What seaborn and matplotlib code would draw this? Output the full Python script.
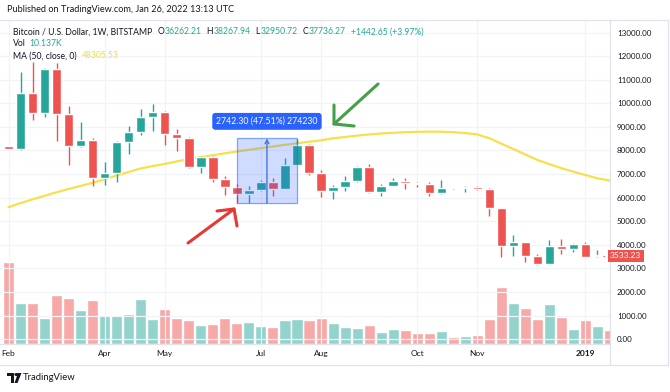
import numpy as np
import pandas as pd
import matplotlib
matplotlib.use("Agg")
import matplotlib.pyplot as plt
import matplotlib.transforms as mtransforms
from matplotlib.lines import Line2D
from matplotlib.patches import Rectangle, Circle, Polygon
import seaborn as sns

# Bitcoin / USD semanal (Bitstamp), fev/2018 -> jan/2019
opens = [8190, 8064, 10424, 9602, 11453, 9534, 8203, 8445, 6822, 7034,
         8347, 8797, 9407, 9644, 8686, 8517, 7314, 7737, 6800, 6441,
         6157, 6326, 6678, 6356, 7386, 8233, 7034, 6296, 6466, 6708,
         7314, 6254, 6496, 6708, 6610, 6568, 6186, 6424, 6398, 6441,
         6356, 5551, 3953, 4136, 3542, 3191, 3953, 3826, 4038, 3520,
         3545]
highs = [8190, 11314, 11763, 11500, 11695, 9898, 9195, 8517, 7500, 8403,
         9038, 9758, 9970, 9680, 8898, 8560, 7767, 7770, 6919, 6600,
         6496, 6750, 6822, 7669, 8480, 8275, 7174, 6538, 6919, 7343,
         7428, 6560, 6822, 6822, 6650, 6678, 6750, 6470, 6496, 6480,
         6400, 5560, 4419, 4140, 3602, 4208, 4250, 4090, 4110, 3784,
         3700]
lows = [8060, 8030, 9292, 9407, 8403, 7386, 8150, 6509, 6538, 6653,
        7839, 8657, 8840, 8233, 7979, 7246, 7034, 6653, 6130, 5772,
        5788, 6300, 6072, 6356, 7386, 6962, 6017, 5932, 6296, 6680,
        6212, 6072, 6480, 6356, 6466, 6072, 6150, 6380, 6254, 6330,
        5237, 3500, 3542, 3263, 3161, 3180, 3614, 3712, 3470, 3480,
        3480]
closes = [8060, 10424, 9602, 11453, 9534, 8203, 8445, 6822, 7034, 8347,
          8797, 9407, 9644, 8686, 8517, 7314, 7737, 6800, 6441, 6157,
          6326, 6678, 6356, 7386, 8233, 7034, 6296, 6466, 6708, 7314,
          6254, 6496, 6708, 6610, 6568, 6186, 6424, 6398, 6441, 6356,
          5551, 3953, 4136, 3542, 3191, 3953, 3826, 4038, 3500, 3545,
          3533.23]
# volume (mil BTC, escala aproximada lida das barras)
volumes = [245, 123, 123, 79, 148, 138, 103, 133, 88, 88,
           91, 136, 75, 106, 77, 71, 57, 61, 77, 64,
           67, 53, 50, 73, 75, 73, 79, 64, 51, 49,
           57, 37, 46, 42, 32, 34, 40, 21, 25, 28,
           75, 172, 123, 108, 75, 121, 82, 46, 71, 55,
           41]
# média móvel de 50 semanas
ma50 = [5600, 5770, 5930, 6080, 6230, 6370, 6500, 6630, 6780, 6940,
        7090, 7240, 7340, 7430, 7540, 7630, 7720, 7800, 7880, 7960,
        8030, 8100, 8170, 8240, 8305, 8370, 8430, 8520, 8570, 8630,
        8680, 8720, 8750, 8775, 8790, 8800, 8795, 8775, 8740, 8680,
        8520, 8290, 8060, 7830, 7600, 7420, 7250, 7100, 6960, 6820,
        6730]

month_pos = [0, 8, 13, 21, 26, 34, 39, 48]
month_labels = ["Feb", "Apr", "May", "Jul", "Aug", "Oct", "Nov", "2019"]
price_ticks = list(range(0, 13001, 1000))

# ferramenta de medição (semana 19 -> 24)
measure_weeks = [19, 24]
measure_low = 5772.00
measure_high = 8514.30
measure_text = "2742.30 (47.51%) 274230"

df = pd.DataFrame({"week": np.arange(len(opens)), "open": opens, "high": highs,
                   "low": lows, "close": closes, "volume": volumes, "ma": ma50})
df["dir"] = np.where(df["close"] >= df["open"], "up", "down")

UP, DOWN = "#26A69A", "#EF5350"
GRID = "#F0F3FA"
BORDER = "#E0E3EB"
TXT = "#131722"

sns.set_theme(style="white")
plt.rcParams["font.family"] = ["Lato", "DejaVu Sans"]

W, H = 670, 392
fig = plt.figure(figsize=(W / 100, H / 100), dpi=100)
fig.patch.set_facecolor("white")

def fx(x):
    return x / W

def fy(y):
    return 1 - y / H

ax = fig.add_axes([0, fy(344), fx(610), (344 - 20) / H])
ax.set_xlim(-0.71, 50.04)
ax.set_ylim(-200, 13530)

# grade
for p in price_ticks:
    ax.axhline(p, color=GRID, lw=0.9, zorder=0)
for m in month_pos:
    ax.axvline(m, color=GRID, lw=0.9, zorder=0)

# volume em eixo próprio
axv = ax.twinx()
sns.barplot(data=df, x="week", y="volume", hue="dir",
            palette={"up": "#93D3CC", "down": "#F7A9A7"},
            native_scale=True, width=0.92, dodge=False, errorbar=None,
            saturation=1, legend=False, ax=axv)
axv.set_ylim(0, 972)
axv.set_xlim(-0.71, 50.04)
axv.set_yticks([])
axv.set_ylabel("")
axv.set_xlabel("")
for s in axv.spines.values():
    s.set_visible(False)

# média móvel
sns.lineplot(data=df, x="week", y="ma", color="#F6E04B", lw=1.6, ax=ax, zorder=3)

# candles
px_val = (13530 + 200) / 324.0
cols = np.where(df["dir"] == "up", UP, DOWN)
ax.vlines(df["week"], df["low"], df["high"], colors=cols, lw=1.0, zorder=4)
body_lo = np.minimum(df["open"], df["close"])
body_h = np.maximum((df["close"] - df["open"]).abs(), px_val * 1.2)
ax.bar(df["week"], body_h, bottom=body_lo, width=0.78, color=cols, zorder=5)

# linha do último preço
last = df.iloc[-1]
ax.plot([df["week"].iloc[-2] + 0.45, df["week"].iloc[-1]], [last["close"]] * 2,
        color=DOWN, lw=0.8, ls=(0, (2, 1.5)), zorder=4)

# ferramenta de medição
ax.add_patch(Rectangle((measure_weeks[0], measure_low), measure_weeks[1] - measure_weeks[0],
                       measure_high - measure_low, facecolor=(0.16, 0.38, 1.0, 0.22),
                       edgecolor=(0.16, 0.38, 1.0, 0.55), lw=0.9, zorder=6))
mid = (measure_weeks[0] + measure_weeks[1]) / 2
ax.annotate("", xy=(mid, measure_high), xytext=(mid, measure_low),
            arrowprops=dict(arrowstyle="->", color="#4A72E0", lw=1.0,
                            shrinkA=0, shrinkB=0, mutation_scale=7), zorder=7)
ax.text(mid, measure_high + 17 * px_val, measure_text, ha="center", va="center",
        color="white", fontsize=6.3, zorder=8,
        bbox=dict(boxstyle="round,pad=0.45,rounding_size=0.35", fc="#2962FF", ec="none"))

# eixos
ax.set_xticks(month_pos)
ax.set_xticklabels(month_labels)
ax.get_xticklabels()[-1].set_fontweight("bold")
ax.set_yticks(price_ticks)
ax.set_yticklabels([f"{p:.2f}" for p in price_ticks])
ax.yaxis.tick_right()
ax.tick_params(axis="y", length=0, pad=5, labelsize=5.8, labelcolor=TXT)
ax.tick_params(axis="x", length=0, pad=4, labelsize=6, labelcolor=TXT)
ax.set_xlabel("")
ax.set_ylabel("")
ax.grid(False)
ax.set_zorder(2)
ax.patch.set_visible(False)
axv.set_zorder(1)
for name, s in ax.spines.items():
    s.set_visible(name in ("top", "right", "bottom"))
    s.set_color(BORDER)
    s.set_linewidth(0.9)

# rótulo do último preço
trans = mtransforms.blended_transform_factory(ax.transAxes, ax.transData)
ax.text(1.0, last["close"], f"{last['close']:.2f}", transform=trans, ha="left",
        va="center", fontsize=6, color="white", clip_on=False, zorder=10,
        bbox=dict(boxstyle="square,pad=0.3", fc=DOWN, ec="none"))

# moldura externa
for (x0, y0, x1, y1) in [(610, 20, 668, 20), (0, 365, 668, 365), (668, 20, 668, 365),
                         (610, 344, 610, 365)]:
    fig.add_artist(Line2D([fx(x0), fx(x1)], [fy(y0), fy(y1)], color=BORDER, lw=0.9))

# setas desenhadas à mão
green = "#43A047"
red = "#E53935"
for pts, c in [([(378, 84), (334, 124)], green), ([(334, 105), (334, 124), (354, 126)], green),
               ([(188, 243), (234, 209)], red), ([(217, 211), (234, 209), (237, 226)], red)]:
    fig.add_artist(Line2D([fx(p[0]) for p in pts], [fy(p[1]) for p in pts], color=c,
                          lw=2.2, solid_capstyle="round", solid_joinstyle="round", zorder=20))

# textos do cabeçalho / legenda
fig.text(fx(7), fy(10), "Published on TradingView.com, Jan 26, 2022 13:13 UTC",
         fontsize=6.6, color=TXT, va="center", ha="left")

renderer = fig.canvas.get_renderer()

def text_row(x, y, pieces, size=6.2):
    # coloca os pedaços um após o outro, medindo a largura de cada um
    for s, c, gap in pieces:
        t = fig.text(fx(x), fy(y), s, fontsize=size, color=c, va="center", ha="left")
        x += t.get_window_extent(renderer).width + gap

text_row(13, 32, [("Bitcoin / U.S. Dollar, 1W, BITSTAMP", TXT, 5),
                  ("O", TXT, 0.5), ("36262.21", UP, 5),
                  ("H", TXT, 0.5), ("38267.94", UP, 5),
                  ("L", TXT, 0.5), ("32950.72", UP, 5),
                  ("C", TXT, 0.5), ("37736.27", UP, 5),
                  ("+1442.65 (+3.97%)", UP, 0)])
text_row(13, 44, [("Vol", TXT, 4), ("10.137K", UP, 0)])
text_row(13, 56, [("MA (50, close, 0)", TXT, 5), ("48305.53", "#F2DC3C", 0)])

# logotipo
fig.add_artist(Rectangle((fx(7), fy(376)), fx(7), 3 / H, transform=fig.transFigure,
                         color=TXT, lw=0))
fig.add_artist(Rectangle((fx(10.5), fy(383)), fx(3), 10 / H, transform=fig.transFigure,
                         color=TXT, lw=0))
fig.add_artist(Circle((fx(16.5), fy(374.5)), 1.4 / W, transform=fig.transFigure, color=TXT))
fig.add_artist(Polygon([(fx(18), fy(373)), (fx(21.5), fy(373)), (fx(17.5), fy(383)),
                        (fx(14.5), fy(383))], closed=True, transform=fig.transFigure,
                       color=TXT, lw=0))
fig.text(fx(23), fy(378), "TradingView", fontsize=6.8, color=TXT, va="center")

fig.savefig("out.png", dpi=100, facecolor="white")
